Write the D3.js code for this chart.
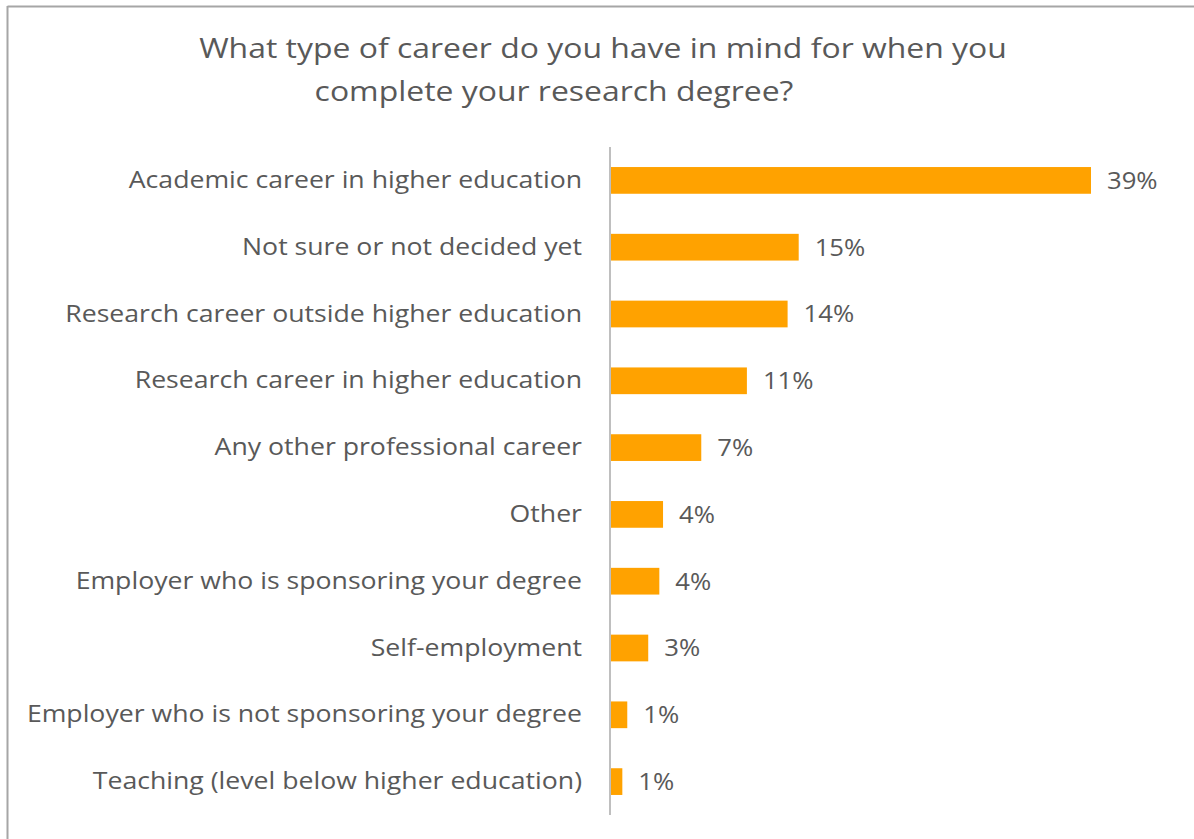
<!DOCTYPE html>
<html>
<head>
<meta charset="utf-8">
<script src="https://cdn.jsdelivr.net/npm/d3@7"></script>
<style>
  html, body { margin: 0; padding: 0; background: #fff; }
  svg { display: block; font-family: "Open Sans", sans-serif; }
</style>
</head>
<body>
<svg id="chart" width="1194" height="839"></svg>
<script>
// Survey responses: share of respondents per intended career path
const categories = [
  "Academic career in higher education",
  "Not sure or not decided yet",
  "Research career outside higher education",
  "Research career in higher education",
  "Any other professional career",
  "Other",
  "Employer who is sponsoring your degree",
  "Self-employment",
  "Employer who is not sponsoring your degree",
  "Teaching (level below higher education)"
];
const shares = [0.390, 0.153, 0.144, 0.111, 0.074, 0.043, 0.040, 0.031, 0.014, 0.010];
const titleLines = [
  "What type of career do you have in mind for when you",
  "complete your research degree?"
];

const svg = d3.select("#chart");
const textColor = "#595959";
const barColor = "#FFA200";

// Widen a text selection horizontally by a factor, keeping glyph height
function widen(sel, factor) {
  sel.each(function () {
    const len = this.getComputedTextLength();
    d3.select(this).attr("textLength", len * factor).attr("lengthAdjust", "spacingAndGlyphs");
  });
}

// Frame lines along the top and left edge
svg.append("line").attr("x1", 7.5).attr("x2", 1194).attr("y1", 6.5).attr("y2", 6.5)
  .attr("stroke", "#a6a6a6").attr("stroke-width", 2);
svg.append("line").attr("x1", 7.5).attr("x2", 7.5).attr("y1", 6).attr("y2", 839)
  .attr("stroke", "#a6a6a6").attr("stroke-width", 2);

// Title
const titleCenters = [603, 554];
svg.append("g").selectAll("text").data(titleLines).join("text")
  .attr("x", (d, i) => titleCenters[i])
  .attr("y", (d, i) => 58 + i * 43)
  .attr("text-anchor", "middle")
  .attr("font-size", 28)
  .attr("fill", textColor)
  .text(d => d)
  .call(widen, 1.14);

const x0 = 610;
const x = d3.scaleLinear().domain([0, 0.39]).range([x0, 1091]);
const y = d3.scaleBand().domain(categories).range([147, 815]).paddingInner(0.6).paddingOuter(0.3);

// Bars
svg.append("g").selectAll("rect").data(categories).join("rect")
  .attr("x", x(0))
  .attr("y", d => y(d))
  .attr("width", (d, i) => x(shares[i]) - x(0))
  .attr("height", y.bandwidth())
  .attr("fill", barColor);

// Category axis
const axis = svg.append("g")
  .attr("transform", `translate(${x0},0)`)
  .call(d3.axisLeft(y).tickSize(0).tickPadding(28));
axis.select(".domain").attr("stroke", "#bfbfbf").attr("stroke-width", 2)
  .attr("d", "M0,147V815");
axis.selectAll("text")
  .attr("font-family", "Open Sans, sans-serif")
  .attr("font-size", 24)
  .attr("fill", textColor)
  .call(widen, 1.11);

// Value labels
const fmt = d3.format(".0%");
svg.append("g").selectAll("text").data(categories).join("text")
  .attr("x", (d, i) => x(shares[i]) + 16)
  .attr("y", d => y(d) + y.bandwidth() / 2)
  .attr("dy", "0.35em")
  .attr("font-size", 24)
  .attr("fill", textColor)
  .text((d, i) => fmt(shares[i]))
  .call(widen, 1.07);
</script>
</body>
</html>
